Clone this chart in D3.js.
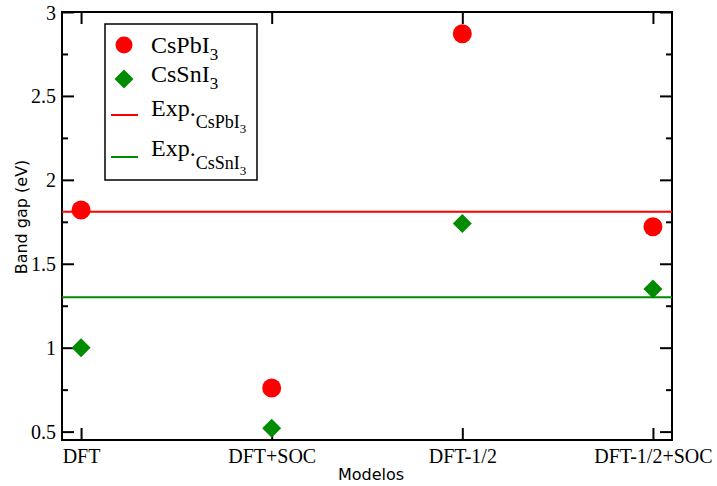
<!DOCTYPE html>
<html>
<head>
<meta charset="utf-8">
<script src="https://cdn.jsdelivr.net/npm/d3@7"></script>
<style>
  body { margin: 0; background: #fff; }
  svg { display: block; }
</style>
</head>
<body>
<svg id="chart" width="717" height="486"></svg>
<script>
// band gap chart

const models = ["DFT", "DFT+SOC", "DFT-1/2", "DFT-1/2+SOC"];
const csPbI3 = [1.82, 0.76, 2.87, 1.72];
const csSnI3 = [1.00, 0.52, 1.74, 1.35];
const expPb = 1.81;
const expSn = 1.30;
const yMajor = [0.5, 1, 1.5, 2, 2.5, 3];
const yMinor = [0.75, 1.25, 1.75, 2.25, 2.75];

const RED = "#ff0000", GREEN = "#008b00";

const svg = d3.select("#chart");
const plotL = 62, plotR = 672, plotT = 12, plotB = 440;

const x = d3.scaleLinear().domain([-0.1, 3.1]).range([plotL, plotR]);
const y = d3.scaleLinear().domain([0.45, 3]).range([plotB, plotT]);

const serif = "'Liberation Serif', 'DejaVu Serif', serif";
const sans = "'DejaVu Sans', sans-serif";

// axes: bottom with labels, left with labels, top/right mirrored without labels
const tickFmt = d => d3.format("~g")(d);

const bAxis = svg.append("g").attr("transform", `translate(0,${plotB})`)
  .call(d3.axisBottom(x).tickValues(d3.range(models.length)).tickSizeInner(-12).tickSizeOuter(0)
    .tickPadding(6).tickFormat(i => models[i]));
const tAxis = svg.append("g").attr("transform", `translate(0,${plotT})`)
  .call(d3.axisTop(x).tickValues(d3.range(models.length)).tickSizeInner(-12).tickSizeOuter(0).tickFormat(""));
const lAxis = svg.append("g").attr("transform", `translate(${plotL},0)`)
  .call(d3.axisLeft(y).tickValues(yMajor).tickSizeInner(-12).tickSizeOuter(0).tickPadding(6).tickFormat(tickFmt));
const rAxis = svg.append("g").attr("transform", `translate(${plotR},0)`)
  .call(d3.axisRight(y).tickValues(yMajor).tickSizeInner(-12).tickSizeOuter(0).tickFormat(""));
const lMinor = svg.append("g").attr("transform", `translate(${plotL},0)`)
  .call(d3.axisLeft(y).tickValues(yMinor).tickSizeInner(-6).tickSizeOuter(0).tickFormat(""));
const rMinor = svg.append("g").attr("transform", `translate(${plotR},0)`)
  .call(d3.axisRight(y).tickValues(yMinor).tickSizeInner(-6).tickSizeOuter(0).tickFormat(""));

[bAxis, tAxis, lAxis, rAxis, lMinor, rMinor].forEach(a => {
  a.select(".domain").remove();
  a.selectAll(".tick line").attr("stroke", "#000").attr("stroke-width", 2);
  a.selectAll(".tick text").attr("fill", "#000").style("font-family", serif).style("font-size", "20px");
});
bAxis.selectAll(".tick text").attr("dy", "0.85em");
lAxis.selectAll(".tick text").attr("dy", "0.35em");

// frame
svg.append("rect")
  .attr("x", plotL).attr("y", plotT)
  .attr("width", plotR - plotL).attr("height", plotB - plotT)
  .attr("fill", "none").attr("stroke", "#000").attr("stroke-width", 2);

// experimental lines
svg.append("line")
  .attr("x1", plotL).attr("x2", plotR)
  .attr("y1", y(expPb)).attr("y2", y(expPb))
  .attr("stroke", RED).attr("stroke-width", 2);
svg.append("line")
  .attr("x1", plotL).attr("x2", plotR)
  .attr("y1", y(expSn)).attr("y2", y(expSn))
  .attr("stroke", GREEN).attr("stroke-width", 2);

// points
svg.append("g").selectAll("circle").data(csPbI3).join("circle")
  .attr("cx", (d, i) => x(i)).attr("cy", d => y(d))
  .attr("r", 9.5).attr("fill", RED);

const diamond = d3.symbol().type(d3.symbolSquare).size(180);
svg.append("g").selectAll("path").data(csSnI3).join("path")
  .attr("d", diamond)
  .attr("transform", (d, i) => `translate(${x(i)},${y(d)}) rotate(45)`)
  .attr("fill", GREEN);

// axis titles
svg.append("text")
  .attr("x", 371).attr("y", 480)
  .attr("text-anchor", "middle")
  .style("font-family", sans).style("font-size", "16px")
  .text("Modelos");
svg.append("text")
  .attr("transform", "translate(27,217) rotate(-90)")
  .attr("text-anchor", "middle")
  .style("font-family", sans).style("font-size", "16px")
  .text("Band gap (eV)");

// legend
const lg = svg.append("g");
lg.append("rect")
  .attr("x", 105).attr("y", 24).attr("width", 152).attr("height", 156)
  .attr("fill", "#fff").attr("stroke", "#000").attr("stroke-width", 1.5);

lg.append("circle").attr("cx", 124).attr("cy", 45).attr("r", 8.5).attr("fill", RED);
lg.append("path").attr("d", diamond)
  .attr("transform", "translate(124,79) rotate(45)").attr("fill", GREEN);
lg.append("line").attr("x1", 111).attr("x2", 138).attr("y1", 115).attr("y2", 115)
  .attr("stroke", RED).attr("stroke-width", 2);
lg.append("line").attr("x1", 111).attr("x2", 138).attr("y1", 157).attr("y2", 157)
  .attr("stroke", GREEN).attr("stroke-width", 2);

function legendText(yPos, parts) {
  const t = lg.append("text").attr("x", 151).attr("y", yPos)
    .style("font-family", serif).style("font-size", "24px").attr("fill", "#000");
  parts.forEach(p => {
    t.append("tspan").attr("dy", p.dy || 0).style("font-size", p.size || "24px").text(p.s);
  });
}
legendText(53, [{ s: "CsPbI" }, { s: "3", dy: 7, size: "17px" }]);
legendText(82, [{ s: "CsSnI" }, { s: "3", dy: 7, size: "17px" }]);
legendText(116, [{ s: "Exp." }, { s: "CsPbI", dy: 12, size: "18px" }, { s: "3", dy: 5, size: "13px" }]);
legendText(156, [{ s: "Exp." }, { s: "CsSnI", dy: 13, size: "18px" }, { s: "3", dy: 6, size: "13px" }]);
</script>
</body>
</html>
